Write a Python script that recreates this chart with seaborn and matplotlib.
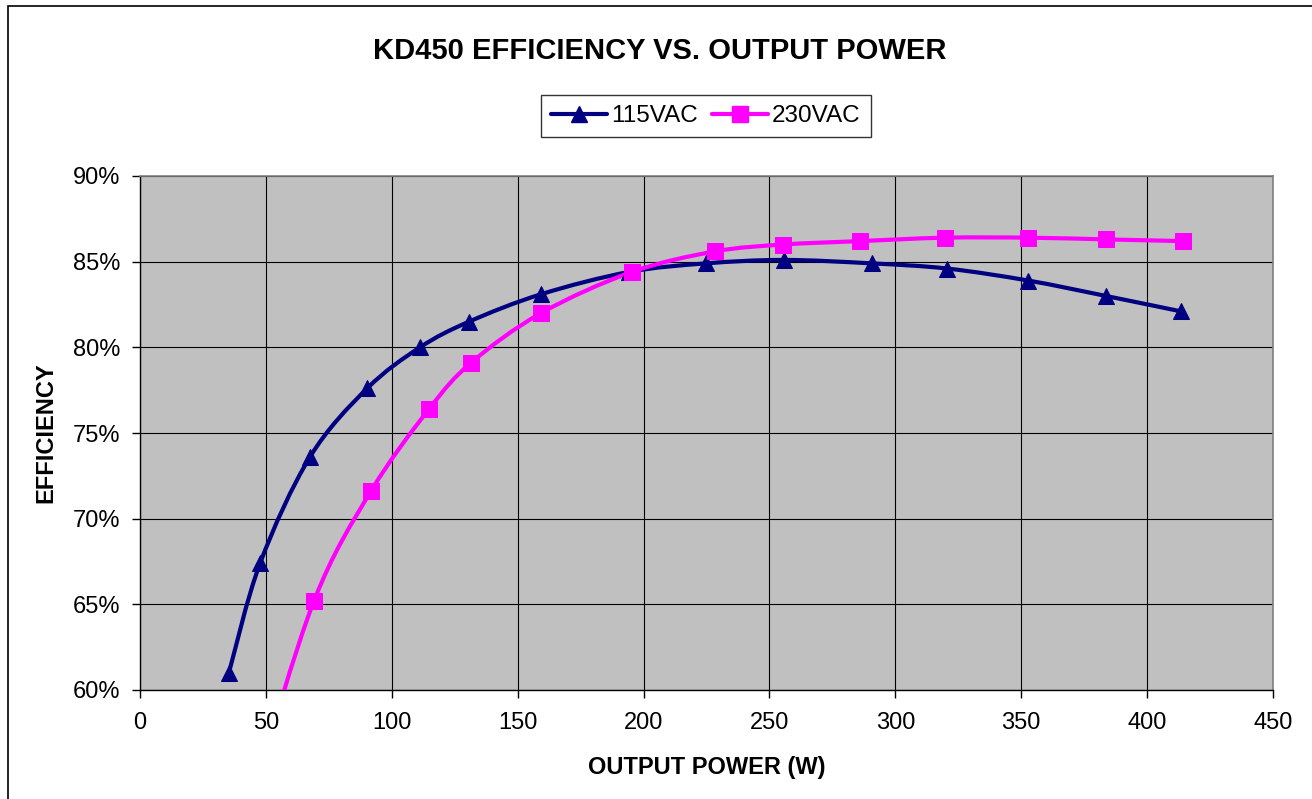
import numpy as np
import pandas as pd
import matplotlib
matplotlib.use("Agg")
import matplotlib.pyplot as plt
import seaborn as sns
from matplotlib.path import Path
from matplotlib.patches import PathPatch, Rectangle
from matplotlib.lines import Line2D
from matplotlib.ticker import PercentFormatter

# ================================
# Data
# ================================
power_115 = [35.3, 47.7, 67.5, 90.2, 111.2, 130.7, 159.3, 194.2, 224.8, 255.8, 290.7, 320.5, 352.7, 383.6, 413.4]
eff_115 = [61.0, 67.4, 73.6, 77.6, 80.0, 81.5, 83.1, 84.4, 84.9, 85.1, 84.9, 84.6, 83.9, 83.0, 82.1]

power_230 = [46.0, 69.1, 91.7, 114.8, 131.5, 159.3, 195.4, 228.4, 255.4, 286.0, 319.7, 352.7, 383.6, 414.2]
eff_230 = [54.5, 65.2, 71.6, 76.4, 79.1, 82.0, 84.4, 85.6, 86.0, 86.2, 86.4, 86.4, 86.3, 86.2]

series_names = ["115VAC", "230VAC"]
x_ticks = [0, 50, 100, 150, 200, 250, 300, 350, 400, 450]
y_ticks = [60, 65, 70, 75, 80, 85, 90]

df = pd.concat([
    pd.DataFrame({"Power": power_115, "Eff": eff_115, "Input": series_names[0]}),
    pd.DataFrame({"Power": power_230, "Eff": eff_230, "Input": series_names[1]}),
])

colors = {"115VAC": "#000080", "230VAC": "#FF00FF"}
markers = {"115VAC": "^", "230VAC": "s"}

sns.set_style("white")
plt.rcParams["font.family"] = ["Liberation Sans", "DejaVu Sans"]
plt.rcParams["text.color"] = "black"
plt.rcParams["axes.labelcolor"] = "black"
plt.rcParams["xtick.color"] = "black"
plt.rcParams["ytick.color"] = "black"


def smooth_path(xs, ys):
    # Excel-like smoothed line: cubic Bezier segments through every point
    pts = np.column_stack([xs, ys])
    verts = [pts[0]]
    codes = [Path.MOVETO]
    n = len(pts)
    for i in range(n - 1):
        p0 = pts[i - 1] if i > 0 else pts[i]
        p1, p2 = pts[i], pts[i + 1]
        p3 = pts[i + 2] if i + 2 < n else pts[i + 1]
        c1 = p1 + (p2 - p0) / 6.0
        c2 = p2 - (p3 - p1) / 6.0
        verts += [c1, c2, p2]
        codes += [Path.CURVE4] * 3
    return Path(verts, codes)


fig = plt.figure(figsize=(13.12, 7.99), dpi=100)
ax = fig.add_axes([140 / 1312, 1 - 690 / 799, (1273 - 140) / 1312, (690 - 176) / 799])
ax.set_facecolor("#C0C0C0")

# smoothed lines
for name in series_names:
    sub = df[df["Input"] == name]
    patch = PathPatch(smooth_path(sub["Power"].values, sub["Eff"].values),
                      facecolor="none", edgecolor=colors[name], lw=3.0,
                      zorder=3, capstyle="round", joinstyle="round")
    ax.add_patch(patch)

# markers
for name in series_names:
    sub = df[df["Input"] == name]
    sns.lineplot(data=sub, x="Power", y="Eff", ax=ax, linestyle="none",
                 marker=markers[name], markersize=12, color=colors[name],
                 markeredgecolor=colors[name], zorder=4, legend=False)

ax.set_xlim(0, 450)
ax.set_ylim(60, 90)
ax.set_xticks(x_ticks)
ax.set_yticks(y_ticks)
ax.yaxis.set_major_formatter(PercentFormatter(decimals=0))
ax.grid(True, color="black", lw=0.8)
ax.set_axisbelow(True)
for side in ["top", "right"]:
    ax.spines[side].set_color("#808080")
    ax.spines[side].set_linewidth(1.2)
for side in ["left", "bottom"]:
    ax.spines[side].set_color("black")
    ax.spines[side].set_linewidth(1.0)
ax.tick_params(axis="both", direction="out", length=6, width=1, color="black",
               labelsize=17, left=True, bottom=True)
ax.tick_params(axis="x", pad=10)
ax.tick_params(axis="y", pad=8)

ax.set_xlabel("OUTPUT POWER (W)", fontsize=17, fontweight="bold", labelpad=16)
ax.set_ylabel("EFFICIENCY", fontsize=17, fontweight="bold", labelpad=11)

fig.text(660 / 1312, 1 - 51 / 799, "KD450 EFFICIENCY VS. OUTPUT POWER",
         ha="center", va="center", fontsize=21, fontweight="bold")

handles = [Line2D([], [], color=colors[n], lw=3, marker=markers[n], markersize=12)
           for n in series_names]
leg = fig.legend(handles, series_names, loc="center", ncol=2,
                 bbox_to_anchor=(706 / 1312, 1 - 116 / 799), fontsize=17.5,
                 frameon=True, fancybox=False, edgecolor="black",
                 handlelength=2.3, handletextpad=0.15, columnspacing=0.6,
                 borderpad=0.42)
leg.get_frame().set_linewidth(1.0)

# outer chart frame
fig.patches.append(Rectangle((8 / 1312, -0.05), 1.2, 1 - 6 / 799 + 0.05,
                             transform=fig.transFigure, fill=False,
                             edgecolor="black", lw=1.2))

fig.savefig("out.png", dpi=100)
